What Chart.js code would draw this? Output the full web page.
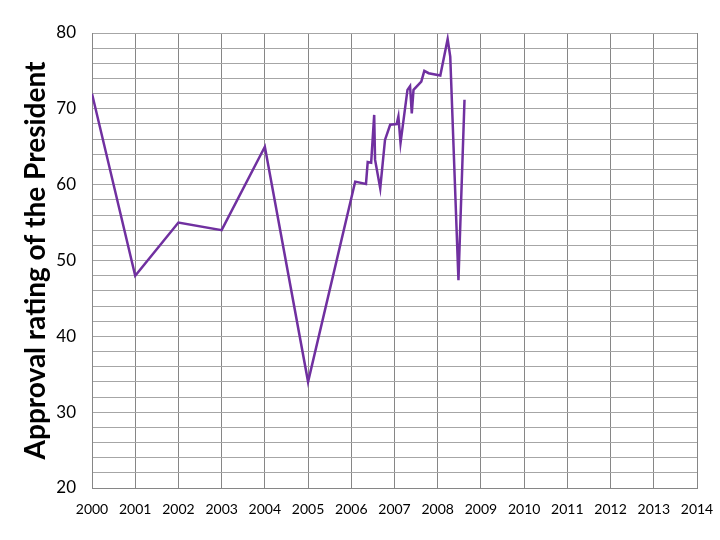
<!DOCTYPE html>
<html>
<head>
<meta charset="utf-8">
<script src="https://cdn.jsdelivr.net/npm/chart.js@4"></script>
<style>
  html, body { margin: 0; padding: 0; background: #fff; }
  #wrap { width: 720px; height: 540px; }
</style>
</head>
<body>
<div id="wrap"><canvas id="approvalChart"></canvas></div>
<script>
// decimal year of each poll reading
const years = [
  2000, 2001, 2002, 2003, 2004, 2005,
  2006.09, 2006.34, 2006.38, 2006.46, 2006.53, 2006.55, 2006.67, 2006.78, 2006.9,
  2007.05, 2007.09, 2007.14, 2007.3, 2007.36, 2007.4, 2007.44, 2007.62, 2007.69, 2007.79,
  2008.06, 2008.23, 2008.29, 2008.48, 2008.62
];
const approval = [
  72, 48, 55, 54, 65, 34,
  60.4, 60.1, 63.0, 62.9, 69.2, 63.3, 59.5, 65.9, 67.9,
  68.0, 69.0, 65.5, 72.5, 73.0, 69.4, 72.5, 73.6, 75.0, 74.7,
  74.4, 79.2, 76.9, 47.4, 71.2
];
const yearTicks = [2000, 2001, 2002, 2003, 2004, 2005, 2006, 2007, 2008, 2009, 2010, 2011, 2012, 2013, 2014];

document.addEventListener("DOMContentLoaded", function () {
  const ctx = document.getElementById('approvalChart').getContext('2d');
  new Chart(ctx, {
    type: 'scatter',
    data: {
      datasets: [{
        label: 'Approval',
        data: years.map((x, i) => ({ x: x, y: approval[i] })),
        showLine: true,
        borderColor: '#7030a0',
        borderWidth: 2.5,
        pointRadius: 0,
        tension: 0
      }]
    },
    options: {
      responsive: true,
      maintainAspectRatio: false,
      animation: false,
      layout: { padding: { top: 33, right: 0, left: 0, bottom: 0 } },
      plugins: { legend: { display: false }, tooltip: { enabled: false } },
      scales: {
        x: {
          type: 'linear',
          min: 2000,
          max: 2014,
          afterBuildTicks: (scale) => { scale.ticks = yearTicks.map(v => ({ value: v })); },
          afterFit: (scale) => { scale.height = 52; scale.paddingRight = 23; },
          ticks: {
            callback: (v) => String(v),
            color: '#000',
            font: { family: 'Lato', size: 14 },
            padding: 13,
            maxRotation: 0,
            autoSkip: false
          },
          grid: { color: '#868686', lineWidth: 1, drawTicks: false },
          border: { color: '#868686' }
        },
        y: {
          min: 20,
          max: 80,
          afterFit: (scale) => { scale.width = 92; },
          ticks: {
            stepSize: 2,
            callback: (v) => (v % 10 === 0 ? v : ''),
            color: '#000',
            font: { family: 'Lato', size: 17 },
            padding: 16,
            autoSkip: false
          },
          grid: { color: '#a6a6a6', lineWidth: 1, drawTicks: false },
          border: { color: '#868686' },
          title: {
            display: true,
            text: 'Approval rating of the President',
            color: '#000',
            font: { family: 'Lato', size: 28, weight: 'bold' },
            padding: { top: 19, bottom: 0 }
          }
        }
      }
    }
  });
});
</script>
</body>
</html>
